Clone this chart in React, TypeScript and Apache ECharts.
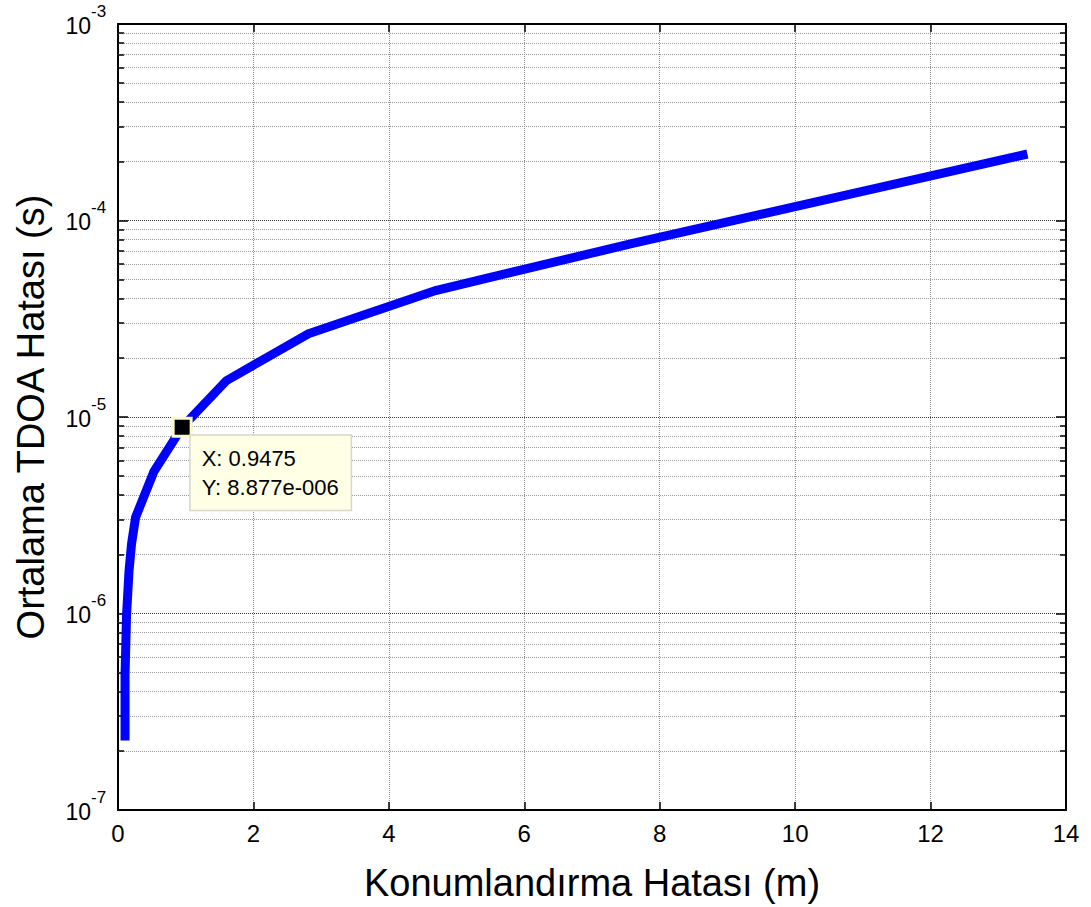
import React, { useEffect, useRef } from "react";
import * as echarts from "echarts";

// Data
const positionError = [0.104, 0.104, 0.126, 0.163, 0.2, 0.26, 0.53, 0.9475, 1.6, 2.81, 4.69, 7.6, 13.43];
const tdoaError = [2.26e-7, 4.86e-7, 9.77e-7, 1.65e-6, 2.26e-6, 3.09e-6, 5.27e-6, 8.877e-6, 1.53e-5, 2.65e-5, 4.4e-5, 7.65e-5, 2.18e-4];

const xTitle = "Konumlandırma Hatası (m)";
const yTitle = "Ortalama TDOA Hatası (s)";

const tipX = 0.9475;
const tipY = 8.877e-6;
const tipLabels = ["X: 0.9475", "Y: 8.877e-006"];

const xMin = 0;
const xMax = 14;
const xInterval = 2;
const yMin = 1e-7;
const yMax = 1e-3;
const yTickExponents = [-7, -6, -5, -4, -3];
const decades = [-7, -6, -5, -4];
const minorMultipliers = [2, 3, 4, 5, 6, 7, 8, 9];

const FONT = "'Liberation Sans', Arial, sans-serif";

export default function App() {
  const ref = useRef<HTMLDivElement>(null);

  useEffect(() => {
    if (!ref.current) return;
    const chart = echarts.init(ref.current, undefined, { renderer: "svg" });

    const minorValues: number[] = [];
    decades.forEach((e) => minorMultipliers.forEach((m) => minorValues.push(m * Math.pow(10, e))));

    const minorGrid = minorValues.map((v) => ({
      yAxis: v,
      lineStyle: { color: "#9a9a9a", type: "dotted" as const, width: 1 },
    }));
    const tickLen = 0.09;
    const leftTicks = minorValues.map((v) => [
      { coord: [xMin, v], lineStyle: { color: "#000", type: "solid" as const, width: 1.5 } },
      { coord: [xMin + tickLen, v] },
    ]);
    const rightTicks = minorValues.map((v) => [
      { coord: [xMax, v], lineStyle: { color: "#000", type: "solid" as const, width: 1.5 } },
      { coord: [xMax - tickLen, v] },
    ]);

    const data = positionError.map((x, i) => [x, tdoaError[i]]);

    const axisLineStyle = { color: "#000", width: 2 };

    chart.setOption({
      animation: false,
      backgroundColor: "#ffffff",
      textStyle: { fontFamily: FONT },
      grid: { left: 118, right: 25, top: 24, bottom: 91, containLabel: false },
      xAxis: [
        {
          type: "value",
          min: xMin,
          max: xMax,
          interval: xInterval,
          position: "bottom",
          name: xTitle,
          nameLocation: "middle",
          nameGap: 54,
          nameTextStyle: { fontSize: 38, color: "#000", fontFamily: FONT },
          axisLine: { show: true, onZero: false, lineStyle: axisLineStyle },
          axisTick: { show: true, inside: true, length: 8, lineStyle: { color: "#000", width: 1.5 } },
          axisLabel: { show: true, fontSize: 24, color: "#000", margin: 11, fontFamily: FONT },
          splitLine: { show: true, lineStyle: { color: "#8a8a8a", type: "dotted", width: 1 } },
        },
        {
          type: "value",
          min: xMin,
          max: xMax,
          interval: xInterval,
          position: "top",
          axisLine: { show: true, onZero: false, lineStyle: axisLineStyle },
          axisTick: { show: true, inside: true, length: 8, lineStyle: { color: "#000", width: 1.5 } },
          axisLabel: { show: false },
          splitLine: { show: false },
        },
      ],
      yAxis: [
        {
          type: "log",
          logBase: 10,
          min: yMin,
          max: yMax,
          position: "left",
          name: yTitle,
          nameLocation: "middle",
          nameGap: 68,
          nameRotate: 90,
          nameTextStyle: { fontSize: 38, color: "#000", fontFamily: FONT },
          axisLine: { show: true, onZero: false, lineStyle: axisLineStyle },
          axisTick: { show: true, inside: true, length: 10, lineStyle: { color: "#000", width: 1.5 } },
          axisLabel: { show: false },
          splitLine: { show: true, lineStyle: { color: "#3a3a3a", type: "dotted", width: 1 } },
        },
        {
          type: "log",
          logBase: 10,
          min: yMin,
          max: yMax,
          position: "right",
          axisLine: { show: true, onZero: false, lineStyle: axisLineStyle },
          axisTick: { show: true, inside: true, length: 10, lineStyle: { color: "#000", width: 1.5 } },
          axisLabel: { show: false },
          splitLine: { show: false },
        },
      ],
      series: [
        {
          type: "line",
          xAxisIndex: 0,
          yAxisIndex: 0,
          data,
          showSymbol: false,
          symbol: "none",
          lineStyle: { color: "#0000ff", width: 9, cap: "butt", join: "miter" },
          silent: true,
          z: 3,
          markLine: {
            silent: true,
            precision: 12,
            symbol: ["none", "none"],
            label: { show: false },
            emphasis: { disabled: true },
            z: 1,
            data: [...minorGrid, ...leftTicks, ...rightTicks],
          },
          markPoint: {
            silent: true,
            symbol: "rect",
            symbolSize: 18,
            itemStyle: { color: "#000", borderColor: "#fcf8c8", borderWidth: 3 },
            label: {
              show: true,
              position: [19, 19],
              align: "left",
              verticalAlign: "top",
              formatter: tipLabels.join("\n"),
              fontSize: 22,
              lineHeight: 29,
              color: "#000",
              fontFamily: FONT,
              backgroundColor: "#ffffe6",
              borderColor: "#d6d6cc",
              borderWidth: 1.5,
              padding: [8, 12, 8, 11],
            },
            data: [{ coord: [tipX, tipY] }],
          },
        },
      ],
    });

    // Y tick labels (10^n) placed through the library's own scale
    const axisX = chart.convertToPixel({ xAxisIndex: 0 }, xMin) as number;
    const labelEls: any[] = [];
    yTickExponents.forEach((e) => {
      const py = chart.convertToPixel({ yAxisIndex: 0 }, Math.pow(10, e)) as number;
      labelEls.push({
        type: "text",
        silent: true,
        x: axisX - 27,
        y: py + 1.5,
        style: {
          text: "10",
          fontSize: 23,
          fontFamily: FONT,
          fill: "#000",
          align: "right",
          verticalAlign: "middle",
        },
      });
      labelEls.push({
        type: "text",
        silent: true,
        x: axisX - 27,
        y: py - 13,
        style: {
          text: String(e),
          fontSize: 17,
          fontFamily: FONT,
          fill: "#000",
          align: "left",
          verticalAlign: "middle",
        },
      });
    });
    chart.setOption({ graphic: labelEls });

    return () => chart.dispose();
  }, []);

  return (
    <div
      ref={ref}
      style={{ position: "fixed", left: 0, top: 0, width: 1091, height: 907, background: "#fff" }}
    />
  );
}
